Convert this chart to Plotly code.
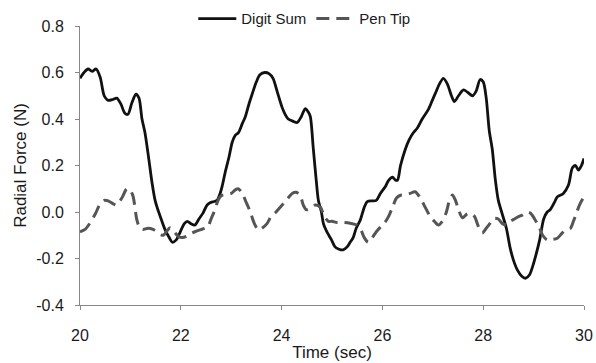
import plotly.graph_objects as go

digit_t = [20.00,20.08,20.16,20.24,20.32,20.40,20.48,20.56,20.66,20.73,20.81,20.89,20.95,21.03,21.11,21.17,21.23,21.29,21.37,21.43,21.49,21.53,21.61,21.69,21.77,21.83,21.91,21.99,22.07,22.13,22.20,22.28,22.36,22.44,22.52,22.58,22.66,22.72,22.78,22.82,22.88,22.96,23.02,23.08,23.14,23.22,23.28,23.36,23.42,23.50,23.57,23.67,23.75,23.83,23.91,24.01,24.07,24.13,24.23,24.31,24.39,24.47,24.53,24.57,24.63,24.69,24.73,24.79,24.83,24.91,24.99,25.06,25.14,25.22,25.30,25.36,25.42,25.48,25.56,25.64,25.70,25.80,25.88,25.96,26.06,26.12,26.20,26.26,26.30,26.36,26.45,26.53,26.61,26.69,26.79,26.91,26.99,27.05,27.13,27.21,27.29,27.37,27.43,27.51,27.61,27.69,27.79,27.86,27.94,28.00,28.06,28.12,28.18,28.24,28.30,28.38,28.46,28.54,28.62,28.68,28.76,28.84,28.92,28.98,29.04,29.12,29.20,29.27,29.33,29.41,29.47,29.59,29.69,29.77,29.83,29.89,29.95,30.00]
digit_sum = [0.575,0.60,0.615,0.605,0.615,0.58,0.50,0.48,0.485,0.49,0.465,0.425,0.42,0.47,0.507,0.49,0.40,0.34,0.22,0.125,0.05,0.02,-0.03,-0.077,-0.11,-0.13,-0.12,-0.085,-0.05,-0.04,-0.05,-0.056,-0.03,-0.005,0.03,0.04,0.045,0.05,0.08,0.11,0.17,0.24,0.30,0.33,0.34,0.38,0.41,0.47,0.51,0.56,0.59,0.60,0.595,0.575,0.52,0.45,0.42,0.40,0.39,0.385,0.41,0.445,0.43,0.41,0.27,0.13,0.05,0.0,-0.05,-0.09,-0.12,-0.15,-0.16,-0.163,-0.15,-0.13,-0.11,-0.07,-0.035,0.02,0.045,0.048,0.05,0.08,0.11,0.135,0.15,0.137,0.137,0.20,0.267,0.31,0.34,0.36,0.40,0.44,0.48,0.51,0.55,0.575,0.55,0.50,0.475,0.50,0.525,0.515,0.50,0.52,0.57,0.56,0.49,0.35,0.27,0.14,0.05,-0.01,-0.07,-0.16,-0.22,-0.25,-0.275,-0.285,-0.27,-0.235,-0.19,-0.12,-0.03,0.0,0.01,0.04,0.065,0.08,0.115,0.19,0.20,0.18,0.20,0.23]

pen_t = [20.00,20.10,20.20,20.30,20.40,20.48,20.56,20.66,20.73,20.83,20.93,20.99,21.05,21.13,21.19,21.25,21.35,21.45,21.55,21.65,21.73,21.79,21.87,21.95,22.03,22.11,22.18,22.28,22.38,22.48,22.54,22.60,22.66,22.74,22.80,22.90,23.00,23.08,23.14,23.22,23.30,23.38,23.46,23.54,23.61,23.71,23.79,23.89,23.99,24.09,24.21,24.29,24.37,24.43,24.49,24.57,24.67,24.77,24.85,24.93,25.00,25.10,25.22,25.36,25.48,25.56,25.64,25.72,25.80,25.88,25.96,26.04,26.12,26.20,26.28,26.36,26.45,26.55,26.65,26.75,26.85,26.95,27.03,27.11,27.19,27.27,27.33,27.39,27.45,27.51,27.59,27.67,27.75,27.83,27.90,27.98,28.06,28.14,28.22,28.30,28.38,28.46,28.54,28.62,28.70,28.78,28.86,28.94,29.02,29.10,29.18,29.27,29.37,29.47,29.57,29.65,29.73,29.79,29.85,29.91,29.97,30.00]
pen_tip = [-0.085,-0.075,-0.047,-0.01,0.035,0.05,0.048,0.035,0.03,0.06,0.10,0.095,0.07,-0.035,-0.07,-0.075,-0.07,-0.075,-0.09,-0.10,-0.08,-0.068,-0.085,-0.105,-0.11,-0.105,-0.095,-0.085,-0.077,-0.07,-0.063,-0.03,0.0,0.05,0.07,0.075,0.08,0.095,0.10,0.08,0.04,0.0,-0.05,-0.077,-0.07,-0.05,-0.02,0.0,0.025,0.05,0.08,0.085,0.07,0.03,0.01,0.015,0.03,0.02,-0.02,-0.04,-0.04,-0.045,-0.045,-0.048,-0.055,-0.07,-0.11,-0.13,-0.11,-0.085,-0.065,-0.048,-0.02,0.02,0.06,0.072,0.073,0.08,0.087,0.06,0.02,-0.02,-0.04,-0.056,-0.04,0.0,0.05,0.073,0.05,0.01,-0.025,-0.01,-0.005,-0.02,-0.06,-0.09,-0.07,-0.048,-0.027,-0.03,-0.05,-0.055,-0.04,-0.03,-0.02,-0.013,0.0,-0.005,-0.03,-0.06,-0.10,-0.12,-0.118,-0.113,-0.09,-0.075,-0.07,-0.04,-0.005,0.03,0.055,0.065]

x_ticks = [20, 22, 24, 26, 28, 30]
y_ticks = [-0.4, -0.2, 0.0, 0.2, 0.4, 0.6, 0.8]

FONT = "Liberation Sans, Arial, sans-serif"

fig = go.Figure()
fig.add_trace(go.Scatter(x=digit_t, y=digit_sum, mode="lines", name="Digit Sum",
                         line=dict(color="#111111", width=2.8, shape="spline", smoothing=0.8)))
fig.add_trace(go.Scatter(x=pen_t, y=pen_tip, mode="lines", name="Pen Tip",
                         line=dict(color="#555555", width=3, dash="13px,7px", shape="spline", smoothing=0.8)))

axis_common = dict(showgrid=False, zeroline=False, showline=True, linecolor="#888888", linewidth=1,
                   ticks="outside", tickcolor="#888888", ticklen=4, automargin=False,
                   tickfont=dict(family=FONT, size=16, color="#1a1a1a"))

fig.update_layout(
    width=596, height=363,
    margin=dict(l=80, r=12, t=26, b=58, autoexpand=False),
    paper_bgcolor="white", plot_bgcolor="white",
    font=dict(family=FONT, size=16, color="#1a1a1a"),
    showlegend=True,
    legend=dict(orientation="h", x=0.445, xanchor="center", y=1.085, yanchor="top",
                font=dict(family=FONT, size=15, color="#1a1a1a"), bgcolor="rgba(0,0,0,0)",
                itemwidth=38, tracegroupgap=0),
    xaxis=dict(range=[20, 30], tickvals=x_ticks, ticktext=[str(v) for v in x_ticks],
               ticklabelstandoff=12,
               title=dict(text="Time (sec)", font=dict(family=FONT, size=17), standoff=2),
               **axis_common),
    yaxis=dict(range=[-0.4, 0.8], tickvals=y_ticks, ticktext=["%.1f" % v for v in y_ticks],
               ticklabelstandoff=8,
               title=dict(text="Radial Force (N)", font=dict(family=FONT, size=17), standoff=5),
               **axis_common),
)

fig.write_html("out.html")
